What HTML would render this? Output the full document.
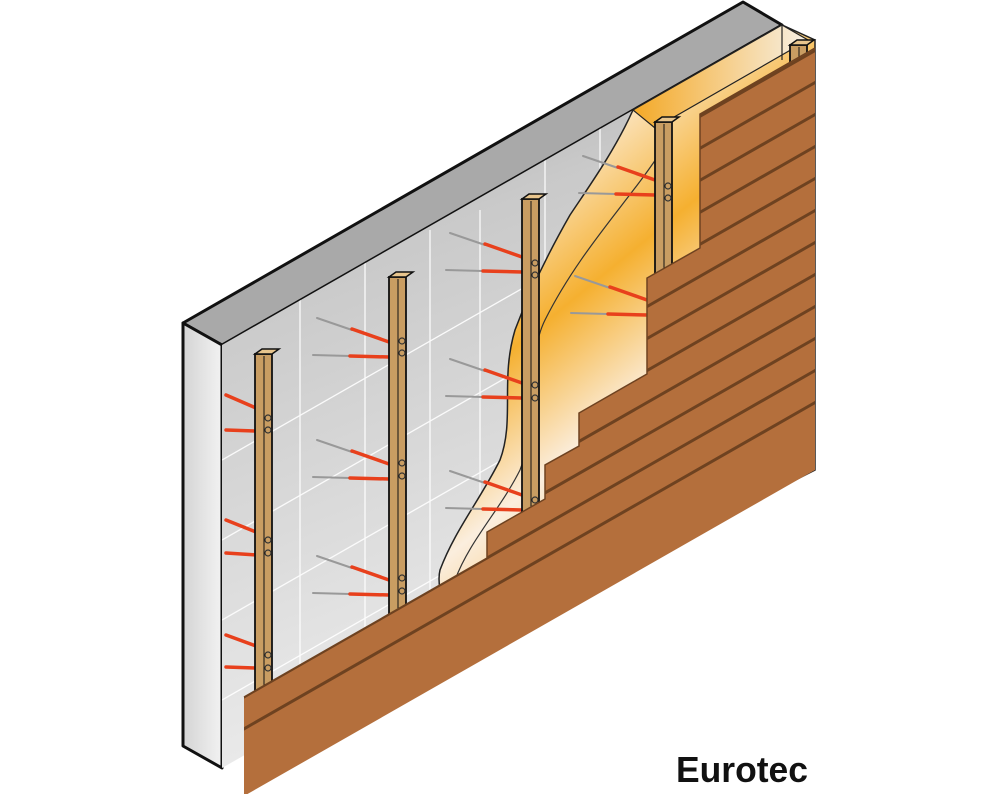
<!DOCTYPE html>
<html><head><meta charset="utf-8"><style>
html,body{margin:0;padding:0;background:#fff;}
svg{display:block;}
.logo{font-family:"Liberation Sans",sans-serif;font-weight:bold;}
</style></head><body>
<svg width="1000" height="794" viewBox="0 0 1000 794" xmlns="http://www.w3.org/2000/svg">
<defs>
<linearGradient id="front" x1="0" y1="0" x2="0.3" y2="1">
<stop offset="0" stop-color="#9c9c9c"/><stop offset="0.35" stop-color="#c9c9c9"/><stop offset="1" stop-color="#eeeeee"/>
</linearGradient>
<linearGradient id="side" x1="0" y1="0" x2="1" y2="0">
<stop offset="0" stop-color="#d4d4d4"/><stop offset="1" stop-color="#f2f2f2"/>
</linearGradient>
<linearGradient id="ins" x1="0" y1="0" x2="0.5" y2="1">
<stop offset="0" stop-color="#f6b035"/><stop offset="0.3" stop-color="#fbe6c4"/><stop offset="0.5" stop-color="#f5b030"/><stop offset="0.7" stop-color="#fbeede"/><stop offset="1" stop-color="#f3a928"/>
</linearGradient>
<linearGradient id="instop" x1="0" y1="0" x2="1" y2="0">
<stop offset="0" stop-color="#f4a927"/><stop offset="1" stop-color="#f7f0e4"/>
</linearGradient>
<clipPath id="sid"><path id="sidp" d="M244,697 L487,558 L487,532 L545,499 L545,465 L579,446 L579,413 L647,374 L647,278 L700,248 L700,114 L815,48 L815,470 L244,796 Z"/></clipPath>
<clipPath id="frontc"><path d="M222,345 L782,25 L782,448 L222,768 Z"/></clipPath>
</defs>

<path d="M183,323 L743,2 L782,25 L222,345 Z" fill="#a9a9a9" stroke="#111" stroke-width="3" stroke-linejoin="round"/>
<path d="M183,323 L222,345 L222,768 L183,746 Z" fill="url(#side)" stroke="#111" stroke-width="3" stroke-linejoin="round"/>
<path d="M222,345 L782,25 L782,448 L222,768 Z" fill="url(#front)"/>
<g clip-path="url(#frontc)" stroke="#fff" stroke-width="1.3" opacity="0.9">
<line x1="300" y1="300" x2="300" y2="760"/><line x1="365" y1="260" x2="365" y2="760"/>
<line x1="430" y1="230" x2="430" y2="760"/><line x1="480" y1="210" x2="480" y2="760"/>
<line x1="545" y1="140" x2="545" y2="760"/><line x1="600" y1="110" x2="600" y2="760"/>
<line x1="222" y1="460" x2="782" y2="140"/><line x1="222" y1="540" x2="782" y2="220"/>
<line x1="222" y1="620" x2="782" y2="300"/><line x1="222" y1="700" x2="782" y2="380"/>
<line x1="222" y1="780" x2="782" y2="460"/>
</g>
<path d="M633,110 C615,150 590,185 570,215 C550,250 530,290 515,330 C500,380 515,420 500,460 C480,500 455,530 440,570 C435,590 450,640 480,640 L815,470 L815,40 L782,25 Z" fill="url(#ins)" stroke="#222" stroke-width="1.5"/>
<path d="M662,150 C630,200 580,250 545,320 C525,360 540,420 520,470 C500,510 470,540 455,580" fill="none" stroke="#333" stroke-width="1.2"/>
<path d="M633,110 L782,25 L808,40 L655,128 Z" fill="url(#instop)" stroke="#222" stroke-width="1.2"/>
<line x1="782" y1="25" x2="782" y2="60" stroke="#222" stroke-width="1.2"/>

<g stroke-linecap="round">
<g stroke="#e8401c" stroke-width="3.5">
<line x1="226" y1="395" x2="256" y2="408"/><line x1="226" y1="430" x2="256" y2="431"/>
<line x1="226" y1="520" x2="256" y2="532"/><line x1="226" y1="553" x2="256" y2="555"/>
<line x1="226" y1="635" x2="256" y2="646"/><line x1="226" y1="667" x2="256" y2="668"/>
</g>
<g id="s2">
<line x1="317" y1="318" x2="352" y2="330" stroke="#999" stroke-width="2"/>
<line x1="352" y1="329" x2="389" y2="342" stroke="#e8401c" stroke-width="3.5"/>
<line x1="313" y1="355" x2="350" y2="356" stroke="#999" stroke-width="2"/>
<line x1="350" y1="356" x2="389" y2="357" stroke="#e8401c" stroke-width="3.5"/>
</g>
<use href="#s2" x="0" y="122"/><use href="#s2" x="0" y="238"/>
<use href="#s2" x="133" y="-85"/><use href="#s2" x="133" y="41"/><use href="#s2" x="133" y="153"/>
<use href="#s2" x="266" y="-162"/><use href="#s2" x="258" y="-42"/>
</g>

<g id="stud">
<rect x="255" y="354" width="17" height="350" fill="#c99d62" stroke="#111" stroke-width="1.8"/>
<line x1="264" y1="356" x2="264" y2="704" stroke="#111" stroke-width="1"/>
<path d="M255,354 L262,349 L279,349 L272,354 Z" fill="#e8c58d" stroke="#111" stroke-width="1.5"/>
<circle cx="268" cy="418" r="3" fill="none" stroke="#333" stroke-width="1.2"/>
<circle cx="268" cy="430" r="3" fill="none" stroke="#333" stroke-width="1.2"/>
<circle cx="268" cy="540" r="3" fill="none" stroke="#333" stroke-width="1.2"/>
<circle cx="268" cy="553" r="3" fill="none" stroke="#333" stroke-width="1.2"/>
<circle cx="268" cy="655" r="3" fill="none" stroke="#333" stroke-width="1.2"/>
<circle cx="268" cy="668" r="3" fill="none" stroke="#333" stroke-width="1.2"/>
</g>
<use href="#stud" x="134" y="-77"/>
<use href="#stud" x="267" y="-155"/>
<use href="#stud" x="400" y="-232"/>
<use href="#stud" x="535" y="-309"/>

<use href="#sidp" fill="#b46f3c"/>
<g clip-path="url(#sid)" stroke="#6e4220" stroke-width="3">
<line x1="200" y1="754" x2="900" y2="354"/>
<line x1="200" y1="722" x2="900" y2="322"/>
<line x1="200" y1="690" x2="900" y2="290"/>
<line x1="200" y1="658" x2="900" y2="258"/>
<line x1="200" y1="626" x2="900" y2="226"/>
<line x1="200" y1="594" x2="900" y2="194"/>
<line x1="200" y1="562" x2="900" y2="162"/>
<line x1="200" y1="530" x2="900" y2="130"/>
<line x1="200" y1="498" x2="900" y2="98"/>
<line x1="200" y1="466" x2="900" y2="66"/>
<line x1="200" y1="434" x2="900" y2="34"/>
<line x1="200" y1="402" x2="900" y2="2"/>
</g>
<path d="M244,697 L487,558 L487,532 L545,499 L545,465 L579,446 L579,413 L647,374 L647,278 L700,248 L700,114 L815,48" fill="none" stroke="#6e4220" stroke-width="1.5"/>

<text x="676" y="782" class="logo" font-size="36" fill="#111" textLength="132" lengthAdjust="spacingAndGlyphs">Eurotec</text>
</svg>
</body></html>
